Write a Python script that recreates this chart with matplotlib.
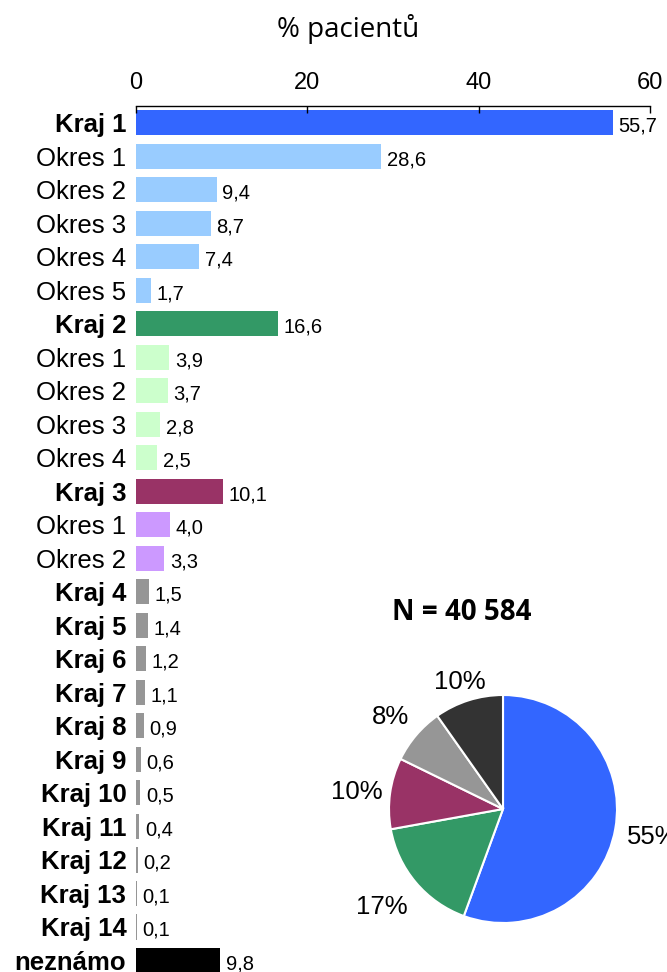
import matplotlib.pyplot as plt
import numpy as np

# data
categories = ['Kraj 1', 'Okres 1', 'Okres 2', 'Okres 3', 'Okres 4', 'Okres 5',
              'Kraj 2', 'Okres 1', 'Okres 2', 'Okres 3', 'Okres 4',
              'Kraj 3', 'Okres 1', 'Okres 2',
              'Kraj 4', 'Kraj 5', 'Kraj 6', 'Kraj 7', 'Kraj 8', 'Kraj 9',
              'Kraj 10', 'Kraj 11', 'Kraj 12', 'Kraj 13', 'Kraj 14', 'neznámo']
values = [55.7, 28.6, 9.4, 8.7, 7.4, 1.7,
          16.6, 3.9, 3.7, 2.8, 2.5,
          10.1, 4.0, 3.3,
          1.5, 1.4, 1.2, 1.1, 0.9, 0.6, 0.5, 0.4, 0.2, 0.1, 0.1, 9.8]
bar_colors = ['#3366FF'] + ['#99CCFF'] * 5 + ['#339966'] + ['#CCFFCC'] * 4 + \
             ['#993366'] + ['#CC99FF'] * 2 + ['#969696'] * 11 + ['#000000']
bold = [not c.startswith('Okres') for c in categories]

pie_values = [55.7, 16.6, 10.1, 8.0, 9.8]
pie_labels = ['55%', '17%', '10%', '8%', '10%']
pie_colors = ['#3366FF', '#339966', '#993366', '#969696', '#333333']

# umisteni popisku kolace (v jednotkach polomeru)
label_pos = [(1.088, -0.246, 'left'), (-0.833, -0.86, 'right'),
             (-1.053, 0.149, 'right'), (-0.825, 0.807, 'right'),
             (-0.377, 1.114, 'center')]

plt.rcParams['font.family'] = ['Liberation Sans', 'DejaVu Sans']

fig = plt.figure(figsize=(6.67, 9.72), dpi=100)

# pruhovy graf
ax = fig.add_axes([136 / 667, 0.0, 514 / 667, 1 - 106.5 / 972])
y = np.arange(len(categories))
ax.barh(y, values, height=0.76, color=bar_colors, linewidth=0, clip_on=False)
ax.set_xlim(0, 60)
ax.set_ylim(25.35, -0.485)
ax.xaxis.tick_top()
ax.set_xticks([0, 20, 40, 60])
ax.tick_params(axis='x', direction='in', length=5, width=1, labelsize=17, pad=9)
ax.set_yticks(y)
ax.set_yticklabels(categories, fontsize=18.5)
for lbl, b in zip(ax.get_yticklabels(), bold):
    if b:
        lbl.set_fontweight('bold')
ax.tick_params(axis='y', length=0, pad=7)
for s in ['bottom', 'left', 'right']:
    ax.spines[s].set_visible(False)
ax.spines['top'].set_linewidth(1)

for yi, v in zip(y, values):
    ax.text(v + 0.65, yi + 0.1, f'{v:.1f}'.replace('.', ','), va='center',
            ha='left', fontsize=14.5)

fig.text(348 / 667, 1 - 29 / 972, '% pacientů', ha='center', va='center',
         fontsize=20, family=['Open Sans', 'DejaVu Sans'])

# kolacovy graf
r = 114
cx, cy = 503, 809
ax2 = fig.add_axes([(cx - r) / 667, 1 - (cy + r) / 972, 2 * r / 667, 2 * r / 972])
wedges, texts = ax2.pie(pie_values, labels=pie_labels, colors=pie_colors,
                        startangle=90, counterclock=False,
                        wedgeprops=dict(edgecolor='white', linewidth=1.5),
                        textprops=dict(fontsize=18.5))
for t, (px, py, ha) in zip(texts, label_pos):
    t.set_position((px, py))
    t.set_ha(ha)
    t.set_va('center')
ax2.set_xlim(-1, 1)
ax2.set_ylim(-1, 1)

fig.text(462 / 667, 1 - 613 / 972, 'N = 40 584', ha='center', va='center',
         fontsize=20, fontweight='bold', family=['Open Sans', 'DejaVu Sans'])

fig.savefig('out.png', dpi=100)
